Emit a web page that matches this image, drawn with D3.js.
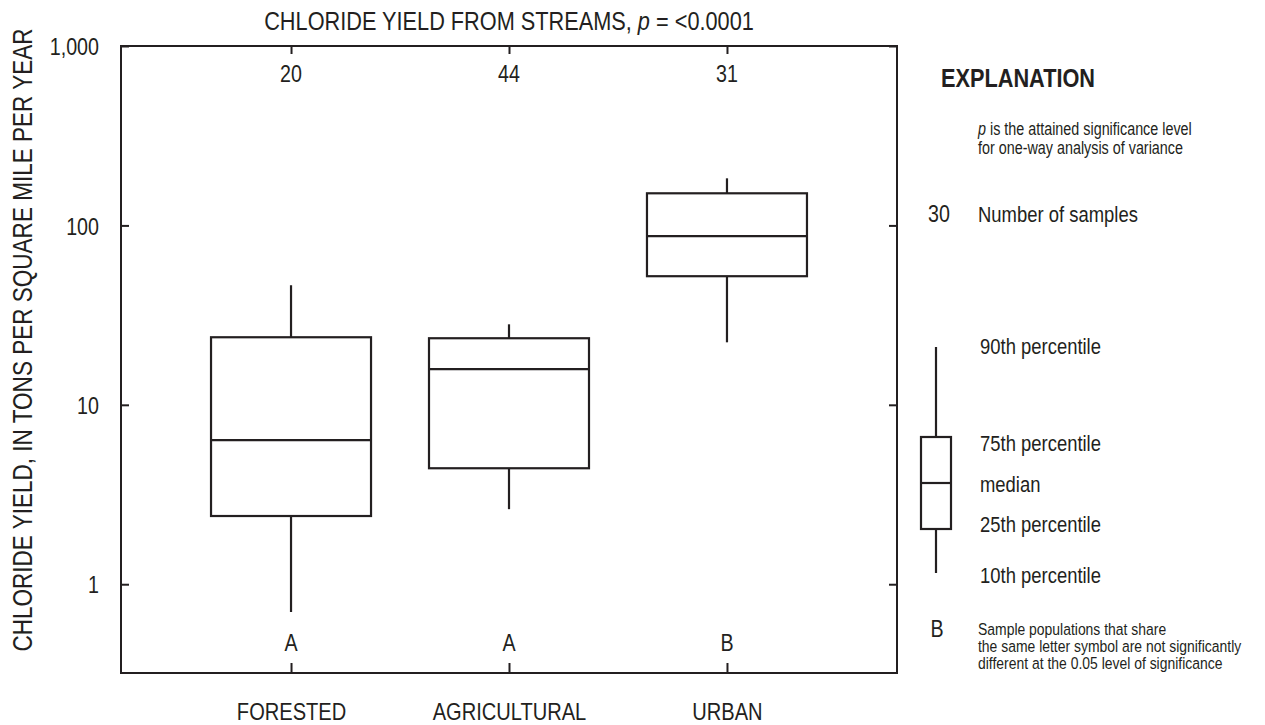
<!DOCTYPE html>
<html>
<head>
<meta charset="utf-8">
<script src="https://cdn.jsdelivr.net/npm/d3@7/dist/d3.min.js"></script>
<style>
  html, body { margin: 0; padding: 0; background: #ffffff; }
  svg { display: block; }
  text { font-family: "Liberation Sans", Arial, sans-serif; fill: #231f20; }
</style>
</head>
<body>
<svg id="chart" width="1265" height="725"></svg>
<script>
// Land-use categories and the number of stream samples in each
const categories = ["FORESTED", "AGRICULTURAL", "URBAN"];
const sampleCounts = [20, 44, 31];
const groupLetters = ["A", "A", "B"];

// Percentiles of chloride yield, tons per square mile per year
const p10 = [0.70, 2.62, 22.3];
const p25 = [2.40, 4.43, 52.1];
const p50 = [6.35, 15.8, 87.1];
const p75 = [23.8, 23.5, 151];
const p90 = [46.4, 28.1, 183];

// Y-axis ticks
const yTickValues = [1, 10, 100, 1000];
const yTickLabels = ["1", "10", "100", "1,000"];

const ink = "#231f20";
const squeeze = 0.82; // horizontal compression for a condensed look
const svg = d3.select("#chart");

// Move a text's x/y into a transform and compress it horizontally
function narrow(sel, extra = "") {
  sel.each(function () {
    const t = d3.select(this);
    const x = +t.attr("x") || 0;
    const y = +t.attr("y") || 0;
    t.attr("x", 0).attr("y", 0)
      .attr("transform", `translate(${x},${y}) ${extra} scale(${squeeze},1)`);
  });
  return sel;
}

const plot = { left: 121, right: 897, top: 46, bottom: 673 };

const x = d3.scalePoint()
  .domain(categories)
  .range([plot.left, plot.right])
  .padding(0.78);

const y = d3.scaleLog()
  .domain([0.32, 1000])
  .range([plot.bottom, plot.top]);

const boxWidth = 160;

// Title
const title = svg.append("text")
  .attr("x", (plot.left + plot.right) / 2)
  .attr("y", 30)
  .attr("text-anchor", "middle")
  .style("font-size", "26.5px");
title.append("tspan").text("CHLORIDE YIELD FROM STREAMS, ");
title.append("tspan").style("font-style", "italic").text("p");
title.append("tspan").text(" = <0.0001");
narrow(title);

// Y-axis title
narrow(svg.append("text")
  .attr("x", 32).attr("y", (25 + 655) / 2)
  .attr("text-anchor", "middle")
  .style("font-size", "27.5px")
  .text("CHLORIDE YIELD, IN TONS PER SQUARE MILE PER YEAR"), "rotate(-90)");

// Left axis with inward ticks
const leftAxis = d3.axisLeft(y)
  .tickValues(yTickValues)
  .tickFormat((d, i) => yTickLabels[i])
  .tickSizeInner(-8)
  .tickSizeOuter(0)
  .tickPadding(22);
const gl = svg.append("g").attr("transform", `translate(${plot.left},0)`).call(leftAxis);
gl.select(".domain").remove();
gl.selectAll(".tick line").attr("stroke", ink).attr("stroke-width", 2);
narrow(gl.selectAll(".tick text").attr("fill", ink).style("font-size", "24px")
  .style("font-family", '"Liberation Sans", Arial, sans-serif')
  .attr("dy", "0.36em"));

// Right axis, ticks only
const rightAxis = d3.axisRight(y)
  .tickValues(yTickValues)
  .tickFormat("")
  .tickSizeInner(-8)
  .tickSizeOuter(0);
const gr = svg.append("g").attr("transform", `translate(${plot.right},0)`).call(rightAxis);
gr.select(".domain").remove();
gr.selectAll(".tick line").attr("stroke", ink).attr("stroke-width", 2);

// Bottom axis with category names
const bottomAxis = d3.axisBottom(x)
  .tickSizeInner(-10)
  .tickSizeOuter(0)
  .tickPadding(30);
const gb = svg.append("g").attr("transform", `translate(0,${plot.bottom})`).call(bottomAxis);
gb.select(".domain").remove();
gb.selectAll(".tick line").attr("stroke", ink).attr("stroke-width", 2);
narrow(gb.selectAll(".tick text").attr("fill", ink).style("font-size", "24.5px")
  .style("font-family", '"Liberation Sans", Arial, sans-serif'));

// Top axis, ticks only
const topAxis = d3.axisTop(x)
  .tickFormat("")
  .tickSizeInner(-8)
  .tickSizeOuter(0);
const gt = svg.append("g").attr("transform", `translate(0,${plot.top})`).call(topAxis);
gt.select(".domain").remove();
gt.selectAll(".tick line").attr("stroke", ink).attr("stroke-width", 2);

// Plot frame
svg.append("rect")
  .attr("x", plot.left).attr("y", plot.top)
  .attr("width", plot.right - plot.left)
  .attr("height", plot.bottom - plot.top)
  .attr("fill", "none").attr("stroke", ink).attr("stroke-width", 2);

// Boxplots
const groups = categories.map((c, i) => ({
  cat: c, n: sampleCounts[i], letter: groupLetters[i],
  q10: p10[i], q25: p25[i], q50: p50[i], q75: p75[i], q90: p90[i]
}));

const g = svg.append("g").attr("stroke", ink).attr("stroke-width", 2.2).attr("fill", "none");

g.selectAll(".whisker-lo").data(groups).join("line")
  .attr("x1", d => x(d.cat)).attr("x2", d => x(d.cat))
  .attr("y1", d => y(d.q25)).attr("y2", d => y(d.q10));

g.selectAll(".whisker-hi").data(groups).join("line")
  .attr("x1", d => x(d.cat)).attr("x2", d => x(d.cat))
  .attr("y1", d => y(d.q75)).attr("y2", d => y(d.q90));

g.selectAll(".box").data(groups).join("rect")
  .attr("x", d => x(d.cat) - boxWidth / 2)
  .attr("width", boxWidth)
  .attr("y", d => y(d.q75))
  .attr("height", d => y(d.q25) - y(d.q75))
  .attr("fill", "#ffffff");

g.selectAll(".median").data(groups).join("line")
  .attr("x1", d => x(d.cat) - boxWidth / 2).attr("x2", d => x(d.cat) + boxWidth / 2)
  .attr("y1", d => y(d.q50)).attr("y2", d => y(d.q50));

// Sample counts along the top
narrow(svg.selectAll(".count").data(groups).join("text")
  .attr("x", d => x(d.cat)).attr("y", 82)
  .attr("text-anchor", "middle")
  .style("font-size", "24px")
  .text(d => d.n));

// Significance group letters along the bottom
narrow(svg.selectAll(".letter").data(groups).join("text")
  .attr("x", d => x(d.cat)).attr("y", 651)
  .attr("text-anchor", "middle")
  .style("font-size", "24px")
  .text(d => d.letter));

// Explanation
const lg = svg.append("g");
narrow(lg.append("text").attr("x", 941).attr("y", 87)
  .style("font-size", "26.5px").style("font-weight", "bold")
  .text("EXPLANATION"));

const pLine = lg.append("text").attr("x", 978).attr("y", 135).style("font-size", "17.5px");
pLine.append("tspan").style("font-style", "italic").text("p");
pLine.append("tspan").text(" is the attained significance level");
narrow(pLine);
narrow(lg.append("text").attr("x", 978).attr("y", 154).style("font-size", "17.5px")
  .text("for one-way analysis of variance"));

narrow(lg.append("text").attr("x", 939).attr("y", 222).attr("text-anchor", "middle")
  .style("font-size", "24px").text("30"));
narrow(lg.append("text").attr("x", 978).attr("y", 222)
  .style("font-size", "22.5px").text("Number of samples"));

// Explanation box glyph
const kx = 936, kw = 30;
const kg = lg.append("g").attr("stroke", ink).attr("stroke-width", 2.2).attr("fill", "none");
kg.append("line").attr("x1", kx).attr("x2", kx).attr("y1", 347).attr("y2", 437);
kg.append("line").attr("x1", kx).attr("x2", kx).attr("y1", 529).attr("y2", 573);
kg.append("rect").attr("x", kx - kw / 2).attr("y", 437).attr("width", kw).attr("height", 92);
kg.append("line").attr("x1", kx - kw / 2).attr("x2", kx + kw / 2).attr("y1", 483).attr("y2", 483);

const keyLabels = [
  { t: "90th percentile", y: 354 },
  { t: "75th percentile", y: 451 },
  { t: "median", y: 492 },
  { t: "25th percentile", y: 532 },
  { t: "10th percentile", y: 583 }
];
narrow(lg.selectAll(".key").data(keyLabels).join("text")
  .attr("x", 980).attr("y", d => d.y)
  .style("font-size", "22.5px")
  .text(d => d.t));

narrow(lg.append("text").attr("x", 937).attr("y", 637).attr("text-anchor", "middle")
  .style("font-size", "24px").text("B"));
const sigLines = [
  "Sample populations that share",
  "the same letter symbol are not significantly",
  "different at the 0.05 level of significance"
];
narrow(lg.selectAll(".sig").data(sigLines).join("text")
  .attr("x", 978).attr("y", (d, i) => 635 + i * 17)
  .style("font-size", "17px")
  .text(d => d));
</script>
</body>
</html>
